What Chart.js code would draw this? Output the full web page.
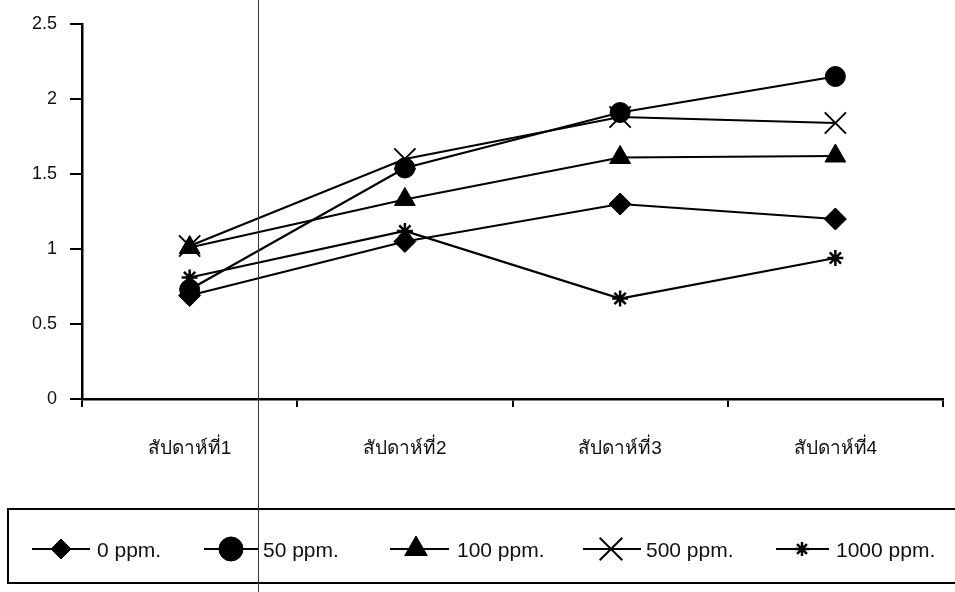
<!DOCTYPE html>
<html>
<head>
<meta charset="utf-8">
<script src="https://cdn.jsdelivr.net/npm/chart.js@4.4.1/dist/chart.umd.min.js"></script>
<style>
  html, body { margin: 0; background: #fff; }
  #wrap { position: relative; width: 955px; height: 592px; }
  #scan { position: absolute; left: 258px; top: 0; width: 1px; height: 592px; background: #333; }
</style>
</head>
<body>
<div id="wrap">
  <canvas id="chart" width="955" height="592"></canvas>
  <div id="scan"></div>
</div>
<script>
const weeks = ["สัปดาห์ที่1", "สัปดาห์ที่2", "สัปดาห์ที่3", "สัปดาห์ที่4"];
const seriesNames = ["0 ppm.", "50 ppm.", "100 ppm.", "500 ppm.", "1000 ppm."];
const ppm0 = [0.69, 1.05, 1.30, 1.20];
const ppm50 = [0.73, 1.54, 1.91, 2.15];
const ppm100 = [1.01, 1.33, 1.61, 1.62];
const ppm500 = [1.02, 1.60, 1.88, 1.84];
const ppm1000 = [0.81, 1.12, 0.67, 0.94];
const yTicks = [0, 0.5, 1, 1.5, 2, 2.5];

const values = [ppm0, ppm50, ppm100, ppm500, ppm1000];
// marker look on the plot (r) and in the legend (lr)
const markers = [
  {style: "rectRot", r: 11, lr: 10, bw: 1},
  {style: "circle", r: 10, lr: 12, bw: 1},
  {style: "triangle", r: 12, lr: 13, bw: 1},
  {style: "crossRot", r: 15, lr: 16, bw: 2},
  {style: "star", r: 8, lr: 7, bw: 2.5}
];

const font = "'Liberation Sans', Arial, 'Noto Sans', sans-serif";

/* legend: boxed row under the plot */
const legendBox = {
  id: "legendBox",
  afterDraw(chart){
    const ctx = chart.ctx;
    ctx.save();
    ctx.strokeStyle = "#000";
    ctx.lineWidth = 2;
    ctx.strokeRect(8, 509, 960, 74);
    const items = [
      {x1: 32, mx: 61, x2: 90, tx: 97},
      {x1: 204, mx: 231, x2: 258, tx: 263},
      {x1: 390, mx: 416, x2: 449, tx: 457},
      {x1: 583, mx: 611, x2: 641, tx: 646},
      {x1: 776, mx: 802, x2: 829, tx: 836}
    ];
    const y = 549;
    items.forEach((it, i) => {
      ctx.strokeStyle = "#000";
      ctx.fillStyle = "#000";
      ctx.lineWidth = 2;
      ctx.beginPath();
      ctx.moveTo(it.x1, y);
      ctx.lineTo(it.x2, y);
      ctx.stroke();
      const m = markers[i];
      if (Chart.helpers && Chart.helpers.drawPoint) {
        ctx.lineWidth = m.bw;
        Chart.helpers.drawPoint(ctx, {pointStyle: m.style, radius: m.lr, rotation: 0, borderWidth: m.bw}, it.mx, y);
      }
      ctx.fillStyle = "#111";
      ctx.font = "21px " + font;
      ctx.textBaseline = "middle";
      ctx.textAlign = "left";
      ctx.fillText(seriesNames[i], it.tx, y + 2);
    });
    ctx.restore();
  }
};

new Chart(document.getElementById("chart"), {
  type: "line",
  data: {
    labels: weeks,
    datasets: values.map((v, i) => ({
      label: seriesNames[i],
      data: v,
      borderColor: "#000",
      backgroundColor: "#000",
      borderWidth: 2.2,
      tension: 0,
      pointStyle: markers[i].style,
      pointRadius: markers[i].r,
      pointHoverRadius: markers[i].r,
      pointBorderWidth: markers[i].bw,
      pointBorderColor: "#000",
      pointBackgroundColor: "#000"
    }))
  },
  options: {
    responsive: false,
    animation: false,
    layout: {autoPadding: false, padding: {top: 24, right: 12, left: 0, bottom: 0}},
    plugins: {legend: {display: false}, tooltip: {enabled: false}},
    scales: {
      x: {
        offset: true,
        grid: {display: true, offset: true, drawOnChartArea: false, drawTicks: true, tickLength: 8, color: "#000", lineWidth: 2},
        border: {display: true, color: "#000", width: 2.5},
        ticks: {color: "#111", padding: 30, maxRotation: 0, font: {size: 19, family: font}},
        afterFit(scale){
          scale.height = 193;
          scale.paddingLeft = 0;
          scale.paddingRight = 0;
        }
      },
      y: {
        min: 0,
        max: 2.5,
        afterBuildTicks(scale){ scale.ticks = yTicks.map(v => ({value: v})); },
        grid: {display: true, drawOnChartArea: false, drawTicks: true, tickLength: 12, color: "#000", lineWidth: 2},
        border: {display: true, color: "#000", width: 2.5},
        ticks: {color: "#111", padding: 13, font: {size: 18, family: font}, callback: v => String(v)},
        afterFit(scale){ scale.width = 82; }
      }
    }
  },
  plugins: [legendBox]
});
</script>
</body>
</html>
